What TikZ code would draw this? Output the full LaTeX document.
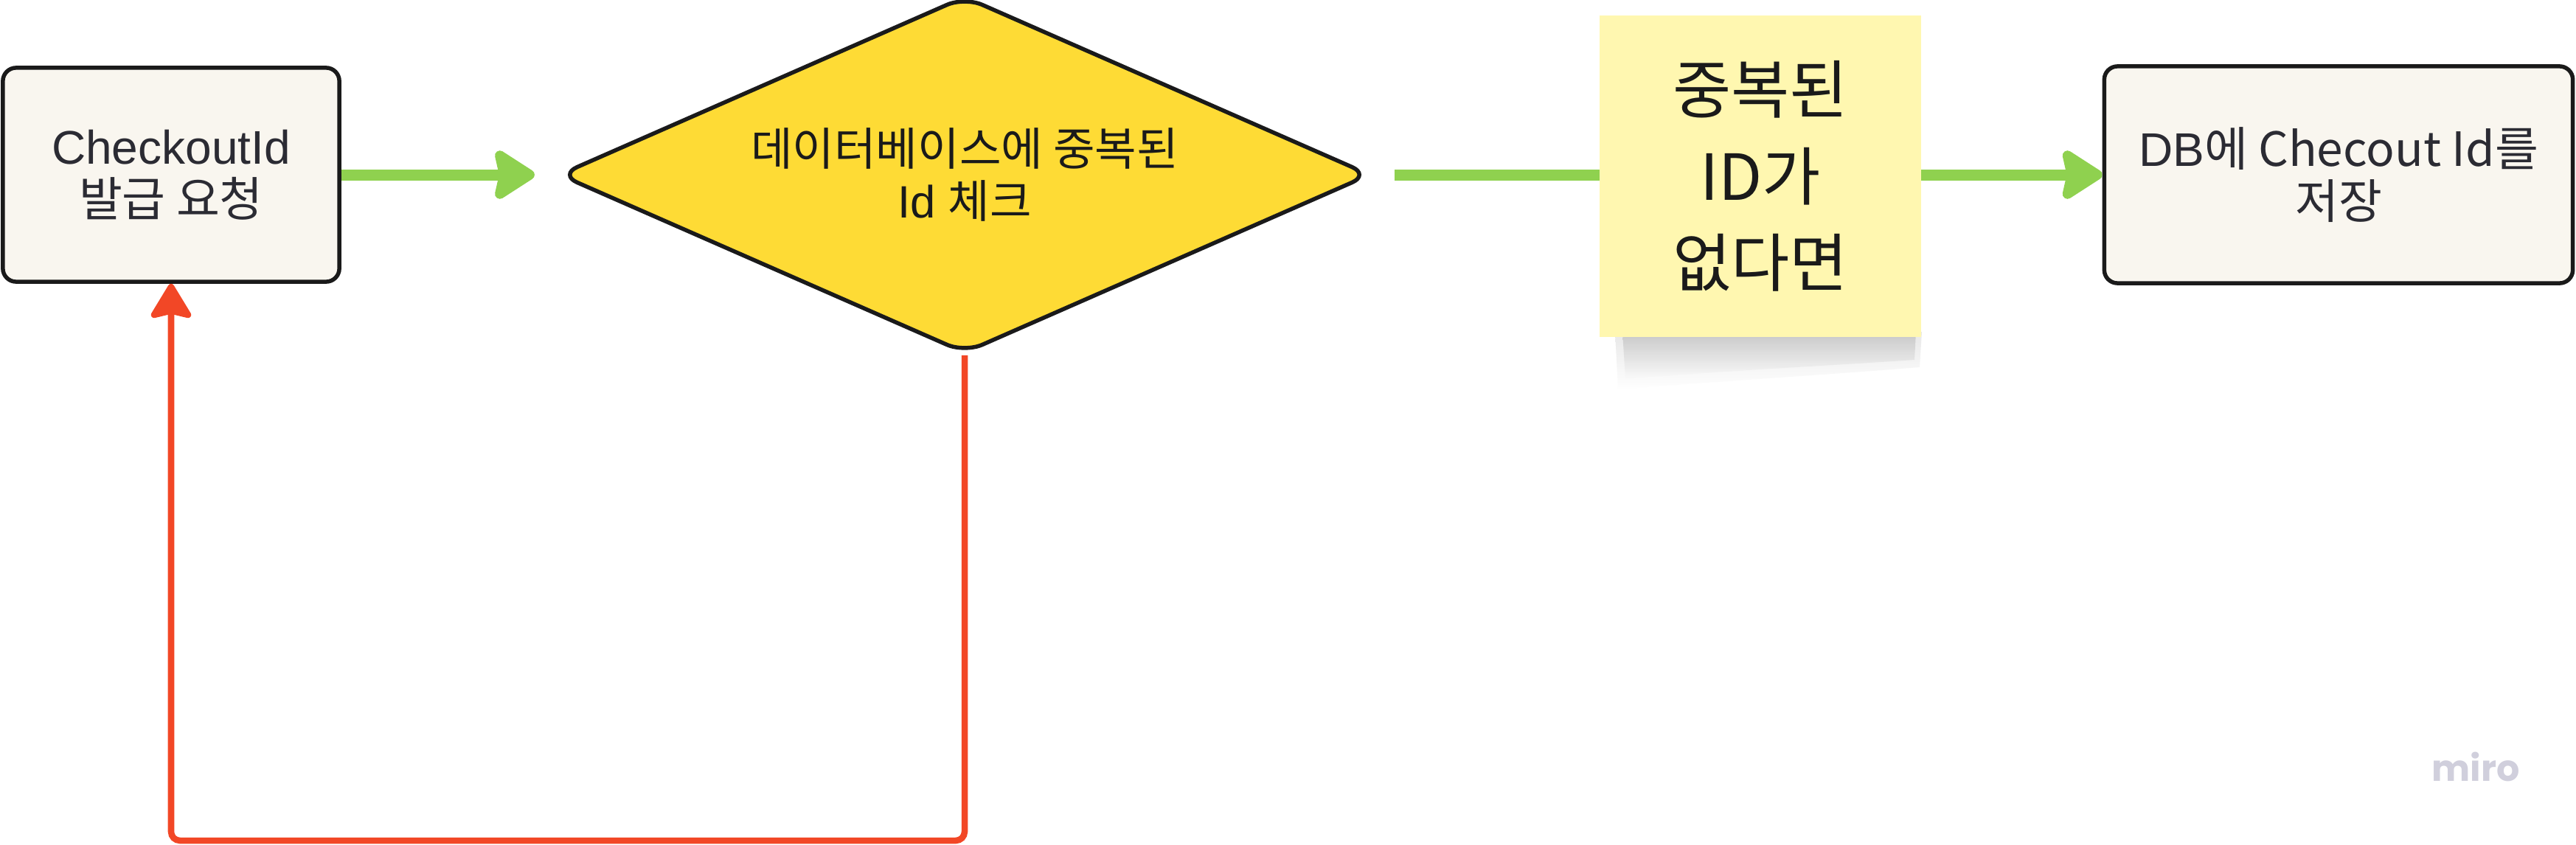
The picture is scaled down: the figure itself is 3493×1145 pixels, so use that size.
\documentclass[tikz,border=0pt]{standalone}
\usepackage{fontspec}
\setmainfont{Liberation Sans}
\newfontfamily\kr{Noto Sans CJK KR}
\newfontfamily\mirofont{Poppins}
\usetikzlibrary{arrows.meta,shapes.geometric,calc}
\definecolor{mgreen}{HTML}{8FD14F}
\definecolor{mred}{HTML}{F24726}
\definecolor{myellow}{HTML}{FEDB35}
\definecolor{stickyc}{HTML}{FFF7B0}
\definecolor{cream}{HTML}{F9F6EF}
\definecolor{ink}{HTML}{1A1A1A}
\definecolor{boxtext}{HTML}{2B2B33}
\definecolor{mirogray}{HTML}{D0CFDC}
\begin{document}
\begin{tikzpicture}[x=0.01cm,y=-0.01cm,
  procbox/.style={draw=ink, line width=0.055cm, fill=cream, rounded corners=0.18cm,
    inner sep=0pt, align=center, text=boxtext, font=\fontsize{18.2}{20.2}\selectfont},
  decision/.style={diamond, draw=ink, line width=0.055cm, fill=myellow, rounded corners=0.26cm,
    aspect=2.3, inner sep=0pt, align=center, text=ink, font=\fontsize{17.5}{20}\selectfont},
  stickynote/.style={rectangle, fill=stickyc, inner sep=0pt, align=center, text=ink,
    font=\fontsize{24.5}{33.5}\selectfont},
  greenarrow/.style={draw=mgreen, line width=0.15cm,
    -{Stealth[length=0.62cm, width=0.78cm, inset=0.08cm, round]}},
  redarrow/.style={draw=mred, line width=0.085cm, rounded corners=0.12cm,
    -{Stealth[length=0.52cm, width=0.62cm, inset=0.07cm, round]}},
]
\useasboundingbox[fill=white] (0,0) rectangle (3493,1145);

% nodes
\node[procbox, minimum width=4.56cm, minimum height=2.9cm] (b1) at (232,237)
  {CheckoutId\\\kr{발급 요청}};
\node[decision, minimum width=11.0cm, minimum height=4.84cm] (dia) at (1308,237)
  {\kr{데이터베이스에 중복된}\\Id \kr{체크}};
\node[procbox, minimum width=6.35cm, minimum height=2.94cm] (b2) at (3171,237)
  {DB\kr{에} Checout Id\kr{를}\\\kr{저장}};

% connectors
\draw[greenarrow, shorten >=0.3cm] (b1.east) -- (dia.west);
\draw[greenarrow, shorten <=0.3cm] (dia.east) -- (b2.west);
\coordinate (loopbottom) at (1308,1140);
\draw[redarrow] (dia.south) -- (loopbottom) -| (b1.south);

% sticky note shadow
\shade[top color=black!40, bottom color=white, opacity=0.45]
  (2200,450) -- (2598,450) -- (2596,488) .. controls (2480,496) and (2320,504) .. (2204,514) -- cycle;
\shade[top color=black!30, bottom color=white, opacity=0.3]
  (2190,450) -- (2606,450) -- (2603,498) .. controls (2480,508) and (2320,518) .. (2194,528) -- cycle;

% sticky note
\node[stickynote, minimum width=4.36cm, minimum height=4.36cm] (note) at (2387,239)
  {\kr{중복된}\\\kr{ID가}\\\kr{없다면}};

% watermark
\node[text=mirogray, font=\mirofont\fontsize{14}{16}\selectfont\bfseries, inner sep=0pt] (miro) at (3357,1040) {miro};
\end{tikzpicture}
\end{document}
